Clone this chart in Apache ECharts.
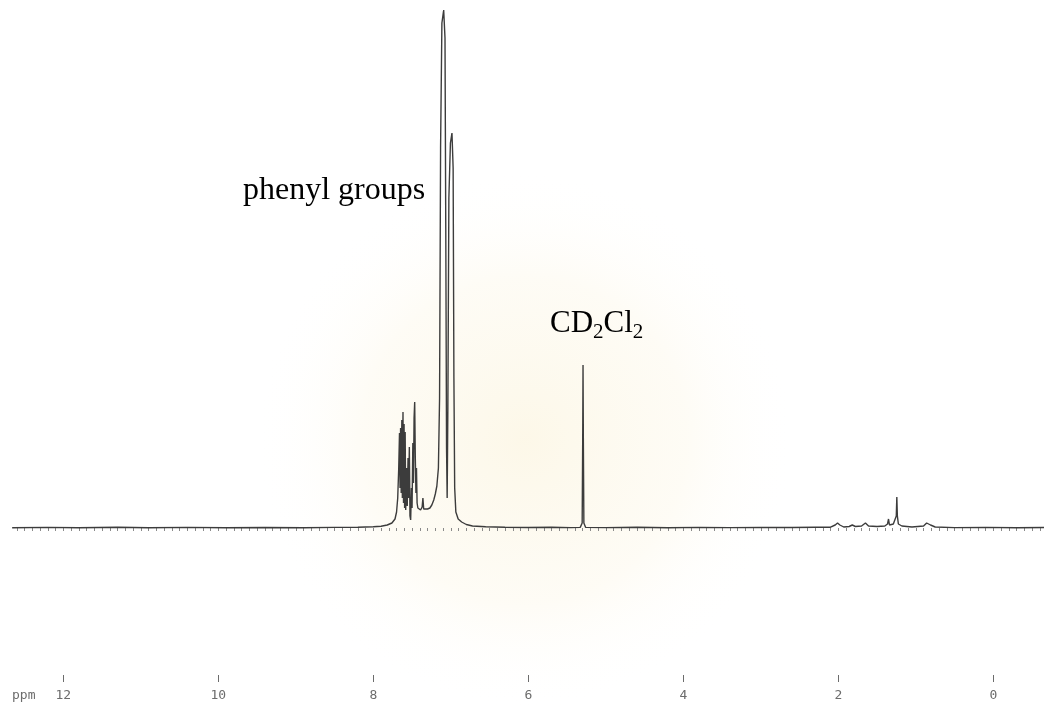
<!DOCTYPE html>
<html>
<head>
<meta charset="utf-8">
<script src="https://cdn.jsdelivr.net/npm/echarts@6/dist/echarts.min.js"></script>
<style>
  html, body { margin: 0; padding: 0; background: #ffffff; }
  #chart { width: 1044px; height: 708px; }
</style>
</head>
<body>
<div id="chart"></div>
<script>
// Chemical shift (ppm) of each sampled point of the spectrum trace
var shifts = [
  12.66, 12.2, 11.8, 11.3, 10.9, 10.4, 9.9, 9.4, 8.9, 8.5, 8.2, 8.0, 7.90, 7.82, 7.76, 7.72,
  7.70, 7.685, 7.672, 7.662, 7.655, 7.648, 7.640, 7.632, 7.625, 7.617, 7.610, 7.603, 7.596,
  7.589, 7.582, 7.572, 7.562, 7.552, 7.545, 7.535, 7.527, 7.518, 7.508, 7.500, 7.490, 7.482,
  7.474, 7.466, 7.458, 7.450, 7.443, 7.435, 7.425, 7.410, 7.390, 7.370, 7.360, 7.350, 7.330,
  7.300, 7.270, 7.245, 7.220, 7.200, 7.180, 7.160, 7.145, 7.132, 7.115, 7.092, 7.075, 7.065,
  7.055, 7.047, 7.038, 7.025, 7.005, 6.985, 6.970, 6.960, 6.950, 6.935, 6.905, 6.86, 6.80, 6.72,
  6.55, 6.3, 6.0, 5.7, 5.45, 5.33, 5.305, 5.298, 5.294, 5.290, 5.283, 5.26, 5.0, 4.6, 4.2,
  3.8, 3.4, 3.0, 2.6, 2.3, 2.1, 2.04, 2.01, 1.98, 1.93, 1.86, 1.82, 1.78, 1.70, 1.65, 1.61,
  1.50, 1.40, 1.365, 1.352, 1.34, 1.29, 1.265, 1.252, 1.245, 1.238, 1.225, 1.18, 1.05, 0.90,
  0.86, 0.84, 0.81, 0.75, 0.5, 0.1, -0.3, -0.654
];
// Signal intensity (arbitrary units) at each shift above
var intensity = [
  0.3, 0.6, 0.2, 0.7, 0.3, 0.6, 0.2, 0.5, 0.3, 0.6, 0.8, 1.2, 1.8, 3, 5, 9,
  16, 30, 60, 95, 40, 100, 35, 108, 30, 116, 25, 104, 20,
  96, 18, 60, 22, 70, 30, 81, 12, 8, 40, 20, 85, 45,
  110, 126, 70, 35, 60, 25, 20, 20, 18, 21, 30, 19, 18,
  19, 20, 23, 28, 34, 42, 60, 130, 380, 505, 518, 490, 300,
  80, 30, 120, 330, 385, 395, 360, 150, 40, 16, 9, 6, 3.5, 2,
  1.2, 0.8, 0.5, 0.7, 0.4, 0.6, 5, 90, 163, 90, 5, 0.6, 0.4, 0.7, 0.3,
  0.6, 0.4, 0.6, 0.5, 0.7, 0.8, 3, 5, 3, 1, 1.5, 3, 1.5, 2, 5, 2,
  1.5, 2, 4, 9, 3, 4, 6, 12, 31, 12, 4, 2, 1, 2,
  5, 6, 3, 1, 0.4, 0.6, 0.3, 0.5
];
// Axis tick labels
var majorTicks = [12, 10, 8, 6, 4, 2, 0];
var axisUnit = 'ppm';
var annotations = ['phenyl groups', 'CD2Cl2'];

var minorTicks = [];
for (var k = -6; k <= 126; k++) { minorTicks.push(k / 10); }

var trace = shifts.map(function (s, i) { return [s, intensity[i]]; });

var chart = echarts.init(document.getElementById('chart'), null, { renderer: 'canvas' });
var xMin = -0.654, xMax = 12.662;
var labelFont = { color: '#6c6c6c', fontFamily: 'DejaVu Sans Mono', fontSize: 13 };

chart.setOption({
  animation: false,
  backgroundColor: '#ffffff',
  grid: { left: 12, right: 0, top: 0, bottom: 33, containLabel: false },
  xAxis: [
    {
      type: 'value', min: xMin, max: xMax, inverse: true, position: 'bottom',
      axisLine: { show: false },
      splitLine: { show: false },
      axisTick: { show: true, customValues: minorTicks, length: 3, lineStyle: { color: '#8a8a8a', width: 1 } },
      axisLabel: { show: false }
    },
    {
      type: 'value', min: xMin, max: xMax, inverse: true, position: 'bottom', offset: 0,
      axisLine: { show: false },
      splitLine: { show: false },
      axisTick: { show: true, customValues: majorTicks, length: 7, lineStyle: { color: '#6c6c6c', width: 1 } },
      axisLabel: Object.assign({ show: true, customValues: majorTicks, margin: 14 }, labelFont)
    }
  ],
  yAxis: { type: 'value', min: -147, max: 528, show: false },
  graphic: [
    {
      type: 'circle', silent: true, z: -10,
      shape: { cx: 525, cy: 440, r: 270 },
      style: {
        fill: {
          type: 'radial', x: 0.5, y: 0.5, r: 0.5,
          colorStops: [
            { offset: 0, color: 'rgba(248,234,190,0.35)' },
            { offset: 0.6, color: 'rgba(250,240,210,0.22)' },
            { offset: 1, color: 'rgba(255,255,255,0)' }
          ]
        }
      }
    },
    {
      type: 'text', left: 12, top: 689, silent: true,
      style: { text: axisUnit, fill: '#6c6c6c', font: '13px "DejaVu Sans Mono"' }
    },
    {
      type: 'text', left: 243, top: 175, silent: true,
      style: { text: annotations[0], fill: '#000', font: '32px "Liberation Serif"' }
    },
    {
      type: 'text', left: 550, top: 308, silent: true,
      style: {
        text: '{n|CD}{s|2}{n|Cl}{s|2}{p| }',
        rich: {
          n: { fontFamily: 'Liberation Serif', fontSize: 31, lineHeight: 31, verticalAlign: 'top', fill: '#000', color: '#000' },
          s: { fontFamily: 'Liberation Serif', fontSize: 21, lineHeight: 21, verticalAlign: 'bottom', fill: '#000', color: '#000' },
          p: { fontSize: 1, lineHeight: 35, verticalAlign: 'top' }
        }
      }
    }
  ],
  series: [
    {
      type: 'line', xAxisIndex: 0, data: trace, showSymbol: false, symbol: 'none',
      lineStyle: { color: '#3c3c3c', width: 1.4 }, clip: true, z: 5
    }
  ]
});
</script>
</body>
</html>
